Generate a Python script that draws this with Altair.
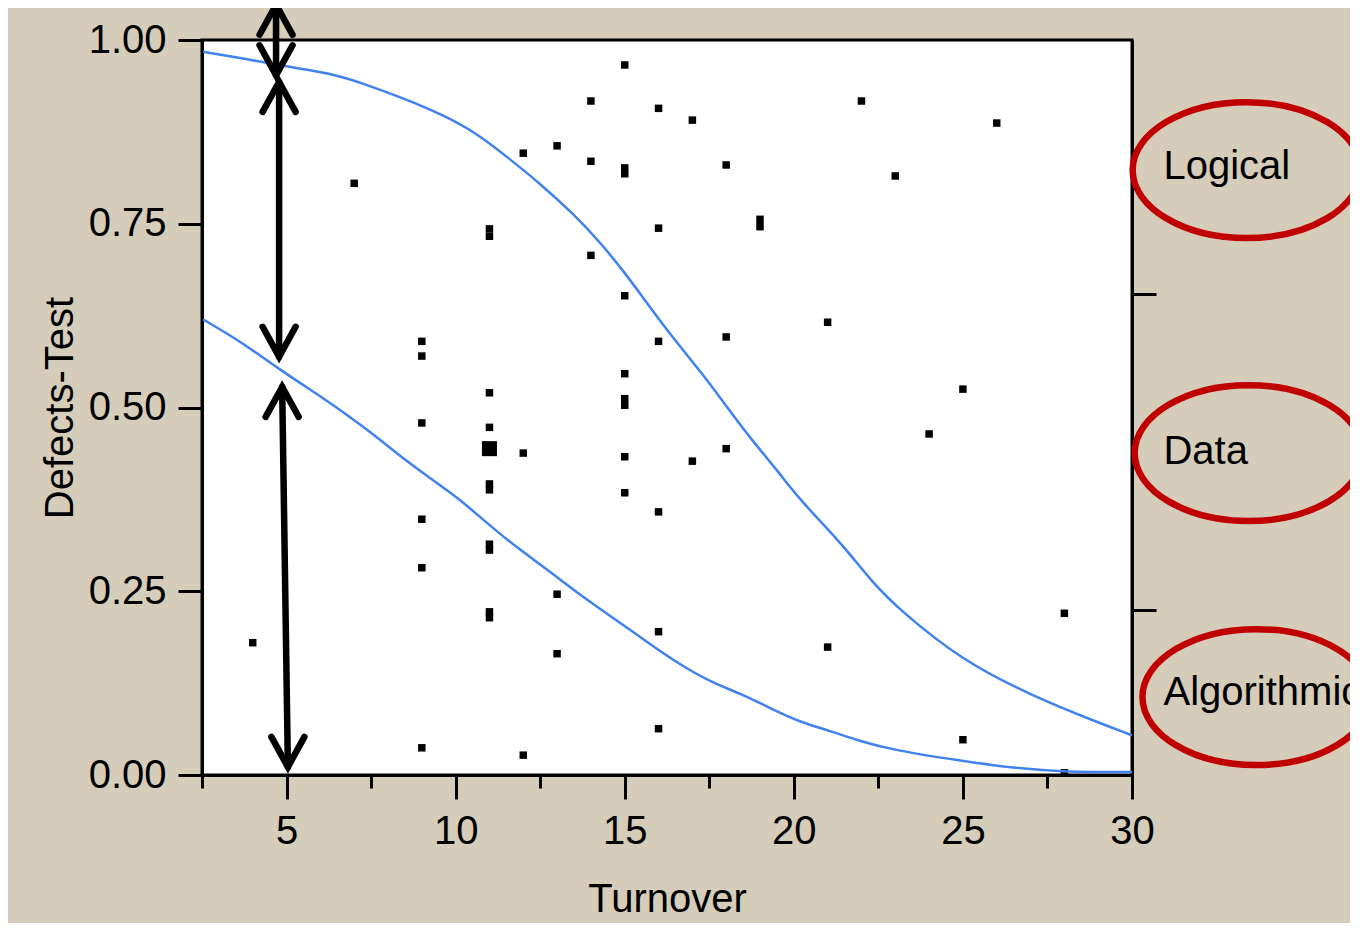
import altair as alt
import pandas as pd

# ---------------- data ----------------
turnover = [4, 7,
            9, 9, 9, 9, 9, 9,
            11, 11, 11, 11, 11, 11, 11, 11, 11, 11, 11,
            12, 12, 12,
            13, 13, 13,
            14, 14, 14,
            15, 15, 15, 15, 15, 15, 15, 15, 15,
            16, 16, 16, 16, 16, 16,
            17, 17,
            18, 18, 18,
            19, 19,
            21, 21,
            22, 23, 24,
            25, 25,
            26,
            28, 28]
defects = [0.180, 0.805,
           0.590, 0.570, 0.479, 0.348, 0.282, 0.037,
           0.743, 0.733, 0.520, 0.473, 0.444, 0.396, 0.388, 0.314, 0.306, 0.222, 0.214,
           0.846, 0.438, 0.027,
           0.856, 0.246, 0.165,
           0.917, 0.835, 0.707,
           0.966, 0.826, 0.818, 0.652, 0.546, 0.512, 0.503, 0.433, 0.384,
           0.907, 0.744, 0.590, 0.358, 0.195, 0.063,
           0.891, 0.427,
           0.830, 0.596, 0.444,
           0.756, 0.746,
           0.616, 0.174,
           0.917, 0.815, 0.464,
           0.525, 0.048,
           0.887,
           0.220, 0.003]
counts = [1] * len(turnover)
counts[12] = 4  # the large (overlapping) marker at Turnover 11

# fitted logistic boundaries
upper_x = [2.53, 3.83, 5.10, 6.28, 7.26, 8.44, 9.63, 10.63, 11.52, 12.49, 13.47,
           14.27, 15.01, 15.66, 16.40, 17.28, 18.05, 18.70, 19.50, 20.12, 20.83,
           21.57, 22.34, 23.14, 24.97, 26.98, 29.02, 30.0]
upper_p = [0.984, 0.974, 0.963, 0.955, 0.941, 0.921, 0.898, 0.873, 0.841, 0.805, 0.764,
           0.725, 0.683, 0.642, 0.596, 0.547, 0.499, 0.459, 0.415, 0.378, 0.343,
           0.306, 0.261, 0.224, 0.156, 0.109, 0.071, 0.054]
lower_x = [2.53, 3.71, 4.81, 6.08, 6.88, 7.67, 8.44, 9.24, 10.04, 10.72, 11.70,
           12.70, 13.68, 14.65, 15.66, 16.63, 17.61, 18.47, 19.29, 20.18, 21.07,
           21.96, 22.93, 24.97, 26.48, 28.02, 30.0]
lower_p = [0.620, 0.588, 0.551, 0.513, 0.487, 0.460, 0.431, 0.404, 0.378, 0.351, 0.313,
           0.280, 0.245, 0.214, 0.181, 0.150, 0.125, 0.110, 0.091, 0.072, 0.060,
           0.046, 0.034, 0.019, 0.0095, 0.004, 0.004]

# response levels (right axis) and their cumulative boundaries
category_names = ["Logical", "Data", "Algorithmic"]
category_bounds = [1.0, 0.654, 0.224, 0.0]
label_x = 30.93

# annotation arrows (data coordinates)
arrow_x_top = [4.69, 4.78, 4.87]
arrow_x_bottom = [4.69, 4.78, 5.04]
arrow_top = [1.048, 0.943, 0.528]
arrow_bottom = [0.952, 0.569, 0.011]

# red ellipses around the level labels (data coordinates of centres)
ellipse_x = [33.39, 33.45, 33.68]
ellipse_y = [0.823, 0.438, 0.106]

x_major = [5, 10, 15, 20, 25, 30]
x_minor = [2.5, 7.5, 12.5, 17.5, 22.5, 27.5]
y_ticks = [0, 0.25, 0.5, 0.75, 1.0]

# ---------------- tables ----------------
pts = pd.DataFrame({"Turnover": turnover, "Defects": defects, "n": counts})
curves = pd.concat([
    pd.DataFrame({"x": upper_x, "p": upper_p, "curve": "upper"}),
    pd.DataFrame({"x": lower_x, "p": lower_p, "curve": "lower"}),
])
labels = pd.DataFrame({
    "name": category_names,
    "x": [label_x] * 3,
    "y": [(category_bounds[i] + category_bounds[i + 1]) / 2 for i in range(3)],
})
shafts = pd.DataFrame({"x": arrow_x_top, "x2": arrow_x_bottom,
                       "y": arrow_top, "y2": arrow_bottom})
heads_up = pd.DataFrame({"x": arrow_x_top, "y": arrow_top})
heads_down = pd.DataFrame({"x": arrow_x_bottom, "y": arrow_bottom})
ellipses = pd.DataFrame({"x": ellipse_x, "y": ellipse_y})

FONT = "Liberation Sans"
xs = alt.Scale(domain=[2.5, 30], nice=False, zero=False)
ys = alt.Scale(domain=[0, 1], nice=False, zero=False)

points = alt.Chart(pts).mark_square(color="black", opacity=1).encode(
    x=alt.X("Turnover:Q", scale=xs,
            axis=alt.Axis(orient="bottom", values=x_major, title="Turnover",
                          tickSize=24, labelPadding=12, titlePadding=28)),
    y=alt.Y("Defects:Q", scale=ys,
            axis=alt.Axis(orient="left", values=y_ticks, format=".2f",
                          title="Defects-Test", tickSize=24, labelPadding=12,
                          titlePadding=8)),
    size=alt.Size("n:Q", scale=alt.Scale(domain=[1, 4], range=[56, 225]), legend=None),
)

fit = alt.Chart(curves).mark_line(color="#3f82f0", strokeWidth=2.5,
                                  interpolate="basis").encode(
    x=alt.X("x:Q", scale=xs,
            axis=alt.Axis(orient="bottom", values=x_minor, labels=False,
                          domain=False, tickSize=13, title=None)),
    y=alt.Y("p:Q", scale=ys,
            axis=alt.Axis(orient="right", values=category_bounds[1:3],
                          labels=False, tickSize=24, title=None)),
    detail="curve:N",
)

shaft = alt.Chart(shafts).mark_rule(color="black", strokeWidth=6.5,
                                    strokeCap="round").encode(
    x=alt.X("x:Q", scale=xs, axis=None), x2="x2:Q",
    y=alt.Y("y:Q", scale=ys, axis=None), y2="y2:Q",
)

CHEV_UP = "M -0.55 1 L 0 0 L 0.55 1"
CHEV_DOWN = "M -0.55 -1 L 0 0 L 0.55 -1"
head_up = alt.Chart(heads_up).mark_point(
    shape=CHEV_UP, size=3600, filled=False, stroke="black", strokeWidth=6.5,
    strokeCap="round", strokeJoin="miter", opacity=1).encode(
    x=alt.X("x:Q", scale=xs, axis=None), y=alt.Y("y:Q", scale=ys, axis=None))
head_down = alt.Chart(heads_down).mark_point(
    shape=CHEV_DOWN, size=3600, filled=False, stroke="black", strokeWidth=6.5,
    strokeCap="round", strokeJoin="miter", opacity=1).encode(
    x=alt.X("x:Q", scale=xs, axis=None), y=alt.Y("y:Q", scale=ys, axis=None))

text = alt.Chart(labels).mark_text(align="left", baseline="middle", fontSize=40,
                                   font=FONT, color="black").encode(
    x=alt.X("x:Q", scale=xs, axis=None), y=alt.Y("y:Q", scale=ys, axis=None),
    text="name:N")

ELLIPSE = ("M -1 0 C -1 -0.329 -0.552 -0.596 0 -0.596 "
           "C 0.552 -0.596 1 -0.329 1 0 C 1 0.329 0.552 0.596 0 0.596 "
           "C -0.552 0.596 -1 0.329 -1 0 Z")
rings = alt.Chart(ellipses).mark_point(
    shape=ELLIPSE, size=51984, filled=False, stroke="#c00000", strokeWidth=6.5,
    opacity=1).encode(
    x=alt.X("x:Q", scale=xs, axis=None), y=alt.Y("y:Q", scale=ys, axis=None))

chart = alt.layer(points, fit, shaft, head_up, head_down, text, rings).resolve_axis(
    x="independent", y="independent"
).properties(
    width=930, height=735,
    autosize=alt.AutoSizeParams(type="none"),
    padding={"left": 194, "top": 32, "right": 218, "bottom": 148},
).configure(
    background="#d5ccba",
).configure_view(
    stroke="black", strokeWidth=3, fill="white",
).configure_axis(
    labelFont=FONT, labelFontSize=40, labelColor="black",
    titleFont=FONT, titleFontSize=40, titleFontWeight="normal", titleColor="black",
    tickColor="black", tickWidth=3, domainColor="black", domainWidth=3,
    grid=False, labelFlush=False, labelOverlap=False, labelBound=False,
)

chart.save("out.html", embed_options={"renderer": "svg", "actions": False})
